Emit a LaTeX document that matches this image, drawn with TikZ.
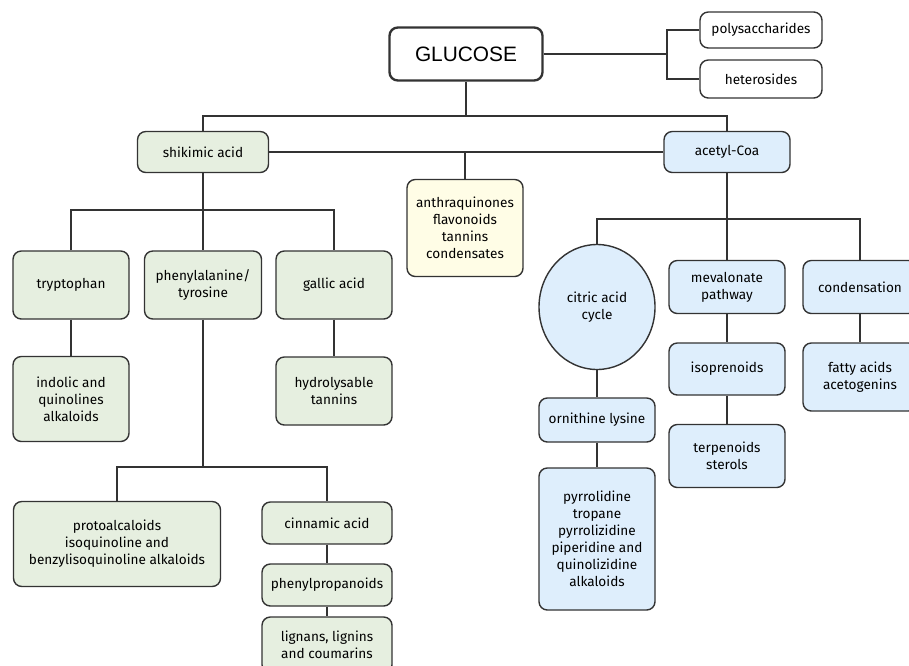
\documentclass[tikz,border=0pt]{standalone}
\usepackage{fontspec}
\setmainfont{Fira Sans}
\newfontfamily\glufont{Liberation Sans}
\usetikzlibrary{shapes.geometric}

\definecolor{linegray}{RGB}{51,51,51}
\definecolor{boxgreen}{RGB}{230,239,224}
\definecolor{boxblue}{RGB}{222,238,252}
\definecolor{boxyellow}{RGB}{255,253,230}

\tikzset{
  box/.style={draw=linegray, line width=1.2pt, rounded corners=0.25cm, align=center,
              inner sep=2pt, minimum width=3.48cm, font=\fontsize{11.6}{14.6}\selectfont},
  greenbox/.style={box, fill=boxgreen},
  bluebox/.style={box, fill=boxblue},
  yellowbox/.style={box, fill=boxyellow},
  whitebox/.style={box, fill=white},
  link/.style={draw=linegray, line width=1.2pt}
}

\begin{document}
\begin{tikzpicture}[x=0.03cm, y=-0.03cm]
  \useasboundingbox (0,0) rectangle (909,665);
  \clip (0,0) rectangle (909,665);

  % top: glucose and its direct products
  \node[whitebox, line width=2pt, minimum width=4.59cm, minimum height=1.59cm,
        font=\glufont\fontsize{17.8}{20}\selectfont] (glucose) at (466,54) {GLUCOSE};
  \node[whitebox, minimum width=3.66cm, minimum height=1.08cm] (poly) at (761,30) {polysaccharides};
  \node[whitebox, minimum width=3.66cm, minimum height=1.14cm] (hetero) at (761,79) {heterosides};

  % second level
  \node[greenbox, minimum width=3.93cm, minimum height=1.23cm] (shik) at (203,152) {shikimic acid};
  \node[bluebox, minimum width=3.78cm, minimum height=1.23cm] (acetyl) at (727,152) {acetyl-Coa};
  \node[yellowbox, minimum height=2.91cm] (anthra) at (465,228) {anthraquinones\\flavonoids\\tannins\\condensates};

  % shikimic acid branch
  \node[greenbox, minimum height=2.04cm] (trypt) at (71,285) {tryptophan};
  \node[greenbox, minimum width=3.51cm, minimum height=2.04cm] (phenyl) at (203,285) {phenylalanine/\\tyrosine};
  \node[greenbox, minimum height=2.04cm] (gallic) at (334,285) {gallic acid};
  \node[greenbox, minimum height=2.55cm] (indolic) at (71,399) {indolic and\\quinolines\\alkaloids};
  \node[greenbox, minimum height=2.04cm] (hydro) at (334,391) {hydrolysable\\tannins};
  \node[greenbox, minimum width=6.21cm, minimum height=2.55cm] (proto) at (117,544)
        {protoalcaloids\\isoquinoline and\\benzylisoquinoline alkaloids};
  \node[greenbox, minimum width=3.9cm, minimum height=1.26cm] (cinn) at (327,523) {cinnamic acid};
  \node[greenbox, minimum width=3.9cm, minimum height=1.26cm] (phprop) at (327,585) {phenylpropanoids};
  \node[greenbox, minimum width=3.9cm, minimum height=1.68cm] (lignans) at (327,645) {lignans, lignins\\and coumarins};

  % acetyl-Coa branch
  \node[bluebox, ellipse, minimum width=3.48cm, minimum height=3.75cm] (citric) at (597,307) {citric acid\\cycle};
  \node[bluebox, minimum height=1.59cm] (meval) at (727,287) {mevalonate\\pathway};
  \node[bluebox, minimum width=3.42cm, minimum height=1.59cm] (cond) at (860,287) {condensation};
  \node[bluebox, minimum height=1.56cm] (iso) at (727,369) {isoprenoids};
  \node[bluebox, minimum height=1.89cm] (terp) at (727,456) {terpenoids\\sterols};
  \node[bluebox, minimum width=3.42cm, minimum height=2.04cm] (fatty) at (860,377) {fatty acids\\acetogenins};
  \node[bluebox, minimum height=1.32cm] (ornith) at (597,420) {ornithine lysine};
  \node[bluebox, minimum height=4.26cm] (pyrro) at (597,539)
        {pyrrolidine\\tropane\\pyrrolizidine\\piperidine and\\quinolizidine\\alkaloids};

  % junction points
  \coordinate (jglu)  at (667,54);
  \coordinate (jtop)  at (466,116);
  \coordinate (jshik) at (203,210);
  \coordinate (jphen) at (203,467);
  \coordinate (jacet) at (727,219);

  % connectors
  \draw[link] (glucose) -- (jglu);
  \draw[link] (poly.west) -| (jglu) |- (hetero.west);
  \draw[link] (glucose.south) -- (jtop);
  \draw[link] (shik.north) |- (jtop) -| (acetyl.north);
  \draw[link] (shik.east) -- (acetyl.west);
  \draw[link] (anthra.north) -- (anthra.north |- shik.east);

  \draw[link] (shik.south) -- (phenyl.north);
  \draw[link] (trypt.north) |- (jshik) -| (gallic.north);
  \draw[link] (trypt) -- (indolic);
  \draw[link] (gallic) -- (hydro);
  \draw[link] (phenyl.south) -- (jphen);
  \draw[link] (proto.north) |- (jphen) -| (cinn.north);
  \draw[link] (cinn) -- (phprop);
  \draw[link] (phprop) -- (lignans);

  \draw[link] (acetyl.south) -- (meval.north);
  \draw[link] (citric.north) |- (jacet) -| (cond.north);
  \draw[link] (citric) -- (ornith);
  \draw[link] (ornith) -- (pyrro);
  \draw[link] (meval) -- (iso);
  \draw[link] (iso) -- (terp);
  \draw[link] (cond) -- (fatty);
\end{tikzpicture}
\end{document}
